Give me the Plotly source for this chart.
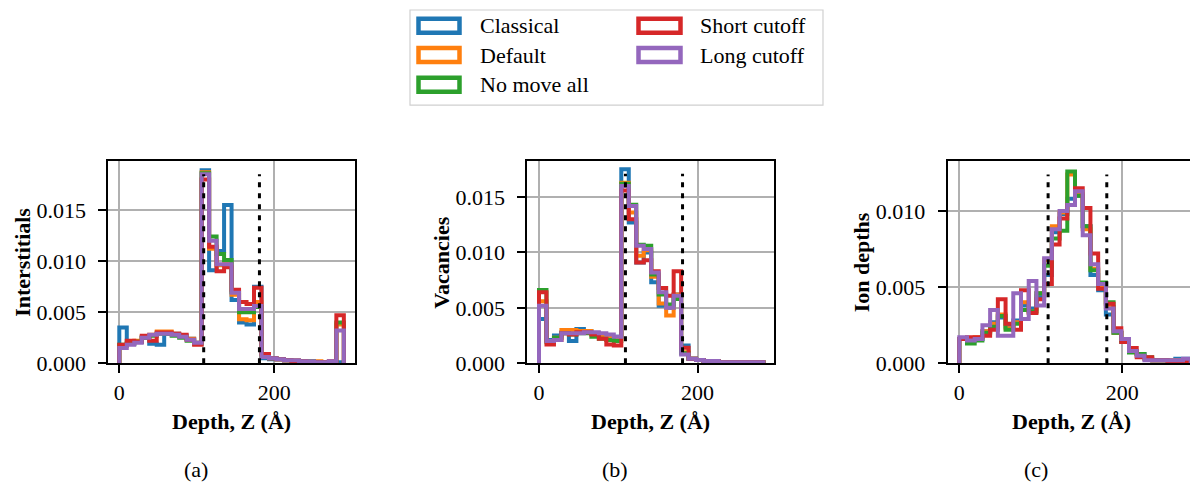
import numpy as np
import plotly.graph_objects as go

# ---------------- data ----------------
series_names = ["Classical", "Default", "No move all", "Short cutoff", "Long cutoff"]
series_colors = ["#1f77b4", "#ff7f0e", "#2ca02c", "#d62728", "#9467bd"]

panel_ylabels = ["Interstitials", "Vacancies", "Ion depths"]
panel_captions = ["(a)", "(b)", "(c)"]
xlabel_text = "Depth, Z (Å)"

# histogram ranges (Å) for each panel, 30 bins each
panel_bin_range = [(0.0, 290.0), (0.0, 283.0), (0.0, 284.0)]
n_bins = 30

# (a) Interstitials
inter_classical = [0.0035, 0.0019, 0.0021, 0.0025, 0.0019, 0.0018, 0.0029, 0.0029, 0.0027, 0.0024,
                   0.0020, 0.0189, 0.0091, 0.0110, 0.0155, 0.0062, 0.0040, 0.0038, 0.0075, 0.0005,
                   0.0004, 0.0004, 0.0003, 0.0003, 0.0002, 0.0002, 0.0001, 0.0001, 0.0001, 0.0001]
inter_default = [0.0017, 0.0020, 0.0022, 0.0026, 0.0028, 0.0031, 0.0031, 0.0029, 0.0026, 0.0024,
                 0.0020, 0.0187, 0.0112, 0.0096, 0.0098, 0.0067, 0.0043, 0.0042, 0.0060, 0.0006,
                 0.0005, 0.0004, 0.0003, 0.0003, 0.0002, 0.0002, 0.0002, 0.0001, 0.0001, 0.0038]
inter_nomove = [0.0018, 0.0019, 0.0021, 0.0025, 0.0027, 0.0029, 0.0029, 0.0027, 0.0025, 0.0022,
                0.0019, 0.0186, 0.0124, 0.0107, 0.0101, 0.0070, 0.0050, 0.0050, 0.0055, 0.0007,
                0.0005, 0.0004, 0.0003, 0.0002, 0.0002, 0.0002, 0.0001, 0.0001, 0.0001, 0.0040]
inter_short = [0.0018, 0.0022, 0.0021, 0.0027, 0.0022, 0.0030, 0.0030, 0.0029, 0.0028, 0.0023,
               0.0018, 0.0180, 0.0114, 0.0090, 0.0094, 0.0072, 0.0060, 0.0058, 0.0074, 0.0009,
               0.0005, 0.0004, 0.0003, 0.0002, 0.0002, 0.0001, 0.0001, 0.0001, 0.0002, 0.0047]
inter_long = [0.0015, 0.0018, 0.0020, 0.0025, 0.0028, 0.0029, 0.0029, 0.0028, 0.0026, 0.0023,
              0.0020, 0.0185, 0.0120, 0.0097, 0.0097, 0.0069, 0.0053, 0.0053, 0.0056, 0.0006,
              0.0005, 0.0004, 0.0003, 0.0003, 0.0002, 0.0002, 0.0001, 0.0001, 0.0002, 0.0032]

# (b) Vacancies
vac_classical = [0.0040, 0.0021, 0.0025, 0.0028, 0.0020, 0.0031, 0.0029, 0.0027, 0.0025, 0.0023,
                 0.0024, 0.0175, 0.0127, 0.0091, 0.0100, 0.0073, 0.0052, 0.0050, 0.0062, 0.0016,
                 0.0004, 0.0003, 0.0002, 0.0002, 0.0001, 0.0001, 0.0001, 0.0001, 0.0001, 0.0001]
vac_default = [0.0056, 0.0020, 0.0023, 0.0030, 0.0030, 0.0029, 0.0029, 0.0027, 0.0025, 0.0023,
               0.0022, 0.0163, 0.0136, 0.0097, 0.0102, 0.0078, 0.0054, 0.0043, 0.0062, 0.0010,
               0.0004, 0.0003, 0.0002, 0.0002, 0.0001, 0.0001, 0.0001, 0.0001, 0.0001, 0.0001]
vac_nomove = [0.0066, 0.0019, 0.0023, 0.0027, 0.0026, 0.0027, 0.0027, 0.0024, 0.0022, 0.0021,
              0.0020, 0.0162, 0.0143, 0.0107, 0.0106, 0.0080, 0.0062, 0.0053, 0.0058, 0.0009,
              0.0004, 0.0003, 0.0002, 0.0002, 0.0001, 0.0001, 0.0001, 0.0001, 0.0001, 0.0001]
vac_short = [0.0064, 0.0017, 0.0021, 0.0027, 0.0026, 0.0028, 0.0028, 0.0026, 0.0022, 0.0017,
             0.0016, 0.0156, 0.0130, 0.0091, 0.0093, 0.0083, 0.0068, 0.0061, 0.0083, 0.0014,
             0.0004, 0.0003, 0.0002, 0.0002, 0.0001, 0.0001, 0.0001, 0.0001, 0.0001, 0.0001]
vac_long = [0.0052, 0.0020, 0.0021, 0.0027, 0.0027, 0.0027, 0.0028, 0.0028, 0.0027, 0.0026,
            0.0024, 0.0160, 0.0142, 0.0106, 0.0103, 0.0082, 0.0064, 0.0050, 0.0061, 0.0008,
            0.0004, 0.0003, 0.0002, 0.0002, 0.0001, 0.0001, 0.0001, 0.0001, 0.0001, 0.0001]

# (c) Ion depths
ion_classical = [0.0016, 0.0015, 0.0016, 0.0021, 0.0027, 0.0030, 0.0024, 0.0028, 0.0038, 0.0036,
                 0.0044, 0.0058, 0.0086, 0.0098, 0.0108, 0.0110, 0.0090, 0.0058, 0.0048, 0.0032,
                 0.0020, 0.0014, 0.0008, 0.0006, 0.0003, 0.0002, 0.0002, 0.0002, 0.0003, 0.0003]
ion_default = [0.0016, 0.0016, 0.0017, 0.0021, 0.0026, 0.0032, 0.0023, 0.0027, 0.0040, 0.0034,
               0.0046, 0.0068, 0.0090, 0.0099, 0.0124, 0.0111, 0.0088, 0.0062, 0.0050, 0.0037,
               0.0020, 0.0015, 0.0008, 0.0005, 0.0003, 0.0002, 0.0002, 0.0002, 0.0002, 0.0002]
ion_nomove = [0.0016, 0.0013, 0.0015, 0.0020, 0.0024, 0.0031, 0.0022, 0.0026, 0.0035, 0.0034,
              0.0046, 0.0064, 0.0082, 0.0087, 0.0126, 0.0110, 0.0090, 0.0061, 0.0053, 0.0040,
              0.0020, 0.0015, 0.0007, 0.0006, 0.0004, 0.0002, 0.0002, 0.0001, 0.0001, 0.0001]
ion_short = [0.0016, 0.0017, 0.0017, 0.0018, 0.0022, 0.0042, 0.0026, 0.0022, 0.0048, 0.0033,
             0.0042, 0.0052, 0.0078, 0.0095, 0.0104, 0.0115, 0.0102, 0.0072, 0.0049, 0.0039,
             0.0023, 0.0014, 0.0010, 0.0004, 0.0004, 0.0002, 0.0002, 0.0001, 0.0001, 0.0001]
ion_long = [0.0017, 0.0015, 0.0016, 0.0025, 0.0035, 0.0018, 0.0018, 0.0046, 0.0029, 0.0054,
            0.0038, 0.0069, 0.0088, 0.0100, 0.0104, 0.0113, 0.0084, 0.0065, 0.0052, 0.0036,
            0.0021, 0.0016, 0.0008, 0.0005, 0.0002, 0.0002, 0.0002, 0.0002, 0.0002, 0.0003]

panel_values = [
    [inter_classical, inter_default, inter_nomove, inter_short, inter_long],
    [vac_classical, vac_default, vac_nomove, vac_short, vac_long],
    [ion_classical, ion_default, ion_nomove, ion_short, ion_long],
]

# region boundaries (dotted vertical lines) and their heights per panel
boundary_x = [109.0, 181.0]
boundary_top = [0.0185, 0.0171, 0.0124]

x_tickvals = [0, 200]
y_tickvals = [[0.0, 0.005, 0.010, 0.015], [0.0, 0.005, 0.010, 0.015], [0.0, 0.005, 0.010]]

# ---------------- layout geometry ----------------
W = 1190
H_REF = 483          # reference picture height (positions below are in reference pixels)
H = 497              # figure height
FONT = "Liberation Serif"
FS = 22

def px_x(p):
    return p / W

def px_y(p):
    return 1 - p / H_REF

ax_left_px = [108.3, 527.3, 947.7]
ax_width_px = 247.0
ax_top_px, ax_bot_px = 160.7, 362.5
x_ranges = [[-14.2, 304.8], [-14.75, 296.7], [-14.2, 283.1]]
y_ranges = [[0, 0.0198], [0, 0.01825], [0, 0.01328]]

fig = go.Figure()

for p in range(3):
    xa = "x" if p == 0 else f"x{p+1}"
    ya = "y" if p == 0 else f"y{p+1}"
    lo, hi = panel_bin_range[p]
    edges = np.linspace(lo, hi, n_bins + 1)
    for s, vals in enumerate(panel_values[p]):
        xs = [edges[0]] + list(edges[:-1]) + [edges[-1]]
        ys = [0.0] + list(vals) + [0.0]
        fig.add_trace(go.Scatter(
            x=xs, y=ys, mode="lines", line=dict(color=series_colors[s], width=4, shape="hv"),
            name=series_names[s], showlegend=False, xaxis=xa, yaxis=ya, hoverinfo="skip"))
    for bx in boundary_x:
        fig.add_trace(go.Scatter(
            x=[bx, bx], y=[0, boundary_top[p]], mode="lines",
            line=dict(color="black", width=3, dash="5px,6px"),
            showlegend=False, xaxis=xa, yaxis=ya, hoverinfo="skip"))

layout = dict(
    width=W, height=H, autosize=False,
    margin=dict(l=0, r=0, t=0, b=0),
    paper_bgcolor="white", plot_bgcolor="white",
    font=dict(family=FONT, size=FS, color="black"),
    showlegend=False,
)

annotations = []
shapes = []
for p in range(3):
    x0 = px_x(ax_left_px[p])
    x1 = min(1.0, px_x(ax_left_px[p] + ax_width_px))
    xkey = "xaxis" if p == 0 else f"xaxis{p+1}"
    ykey = "yaxis" if p == 0 else f"yaxis{p+1}"
    yanchor = "y" if p == 0 else f"y{p+1}"
    xanchor = "x" if p == 0 else f"x{p+1}"
    layout[xkey] = dict(
        domain=[x0, x1], anchor=yanchor, range=x_ranges[p],
        tickvals=x_tickvals, ticks="outside", ticklen=8, tickwidth=2, tickcolor="black",
        showline=True, linecolor="black", linewidth=2, mirror=True,
        showgrid=True, gridcolor="#b0b0b0", gridwidth=1.8, zeroline=False,
        tickfont=dict(family=FONT, size=FS), ticklabelstandoff=0,
    )
    layout[ykey] = dict(
        domain=[px_y(ax_bot_px), px_y(ax_top_px)], anchor=xanchor, range=y_ranges[p],
        tickvals=y_tickvals[p], tickformat=".3f", ticks="outside", ticklen=8, tickwidth=2,
        tickcolor="black", showline=True, linecolor="black", linewidth=2, mirror=(p < 2),
        showgrid=True, gridcolor="#b0b0b0", gridwidth=1.8, zeroline=False,
        tickfont=dict(family=FONT, size=FS), ticklabelstandoff=8,
    )
    cx = ax_left_px[p] + ax_width_px / 2
    annotations.append(dict(
        text=f"<b>{panel_ylabels[p]}</b>", textangle=-90, xref="paper", yref="paper",
        x=px_x(ax_left_px[p] - 86.6), y=px_y((ax_top_px + ax_bot_px) / 2),
        xanchor="center", yanchor="middle", showarrow=False, font=dict(family=FONT, size=FS)))
    annotations.append(dict(
        text=f"<b>{xlabel_text}</b>", xref="paper", yref="paper",
        x=px_x(cx), y=px_y(421), xanchor="center", yanchor="middle", showarrow=False,
        font=dict(family=FONT, size=FS)))
    annotations.append(dict(
        text=panel_captions[p], xref="paper", yref="paper",
        x=px_x(cx - 35.7), y=px_y(469), xanchor="center", yanchor="middle", showarrow=False,
        font=dict(family=FONT, size=FS)))

# legend (manual, two columns, open rectangle patches)
leg_box = (410, 10, 823, 105)
shapes.append(dict(type="rect", xref="paper", yref="paper",
                   x0=px_x(leg_box[0]), x1=px_x(leg_box[2]), y0=px_y(leg_box[3]), y1=px_y(leg_box[1]),
                   line=dict(color="#d0d0d0", width=1.2), fillcolor="rgba(255,255,255,0.8)"))
row_centers = [25.8, 54.9, 84.5]
col_patch_x = [(418.5, 459.5), (638.5, 680.5)]
col_text_x = [478.3, 698.3]
for s, name in enumerate(series_names):
    col = 0 if s < 3 else 1
    row = s if s < 3 else s - 3
    cy = row_centers[row]
    px0, px1 = col_patch_x[col]
    shapes.append(dict(type="rect", xref="paper", yref="paper",
                       x0=px_x(px0), x1=px_x(px1), y0=px_y(cy + 7), y1=px_y(cy - 7),
                       line=dict(color=series_colors[s], width=4.5), fillcolor="white"))
    annotations.append(dict(text=name, xref="paper", yref="paper",
                            x=px_x(col_text_x[col]), y=px_y(cy), xanchor="left", yanchor="middle",
                            showarrow=False, font=dict(family=FONT, size=FS)))

layout["annotations"] = annotations
layout["shapes"] = shapes
fig.update_layout(**layout)

post_js = ("document.documentElement.style.margin='0';document.documentElement.style.padding='0';"
           "document.body.style.margin='0';document.body.style.padding='0';")
fig.write_html("out.html", config={"responsive": False, "displayModeBar": False},
               post_script=post_js)
